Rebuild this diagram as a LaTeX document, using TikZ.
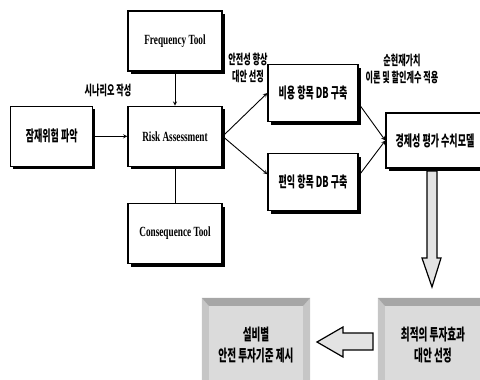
\documentclass[tikz,border=0pt]{standalone}
\usepackage{fontspec}
\setmainfont{Noto Sans CJK KR}[FakeStretch=0.6]
\newfontfamily\enfont{Liberation Serif}[FakeStretch=0.66]
\usetikzlibrary{shapes.geometric, arrows, positioning, shadows}
\tikzstyle{process} = [
    rectangle,
    minimum width=94pt,
    minimum height=60pt,
    draw=black,
    line width=1.3pt,
    fill=white,
    font=\enfont\bfseries\fontsize{14}{16}\selectfont,
    drop shadow={shadow xshift=2.5pt, shadow yshift=-3pt, opacity=1, fill=black}
]
\tikzstyle{dbbox} = [
    process,
    minimum width=90pt,
    minimum height=57pt,
    font=\bfseries\fontsize{15}{17}\selectfont
]
\tikzstyle{result} = [
    rectangle,
    minimum height=94pt,
    fill=gray!28,
    align=center,
    font=\bfseries\fontsize{16}{21}\selectfont
]
\tikzstyle{note} = [
    align=center,
    inner sep=0pt,
    font=\bfseries\fontsize{13.5}{17}\selectfont
]
\tikzstyle{arrow} = [line width=0.9pt,->,>=stealth]
\tikzstyle{line} = [line width=0.9pt]
\tikzstyle{bigarrow} = [draw=black, line width=1.2pt, fill=gray!22]

\begin{document}
\begin{tikzpicture}[x=1pt, y=1pt]
\useasboundingbox (0,0) rectangle (480,-380);

\node (freq) [process] at (175,-41) {Frequency Tool};

\node (risk) [process, below=34pt of freq] {Risk Assessment};

\node (cons) [process, below=36pt of risk] {Consequence Tool};

\node (hazard) [process, left=34pt of risk, minimum width=82pt,
    font=\bfseries\fontsize{15}{17}\selectfont] {잠재위험 파악};

\node (cost) [dbbox] at (313,-93) {비용 항목 DB 구축};

\node (benefit) [dbbox, below=31pt of cost] {편익 항목 DB 구축};

\node (econ) [dbbox, minimum width=98pt, minimum height=55pt] at (435,-140.5)
{경제성 평가 수치모델};

\node (best) [result, minimum width=110pt] at (433,-345)
{최적의 투자효과\\대안 선정};

\node (guide) [result, minimum width=108pt] at (256,-345)
{설비별\\안전 투자기준 제시};

\foreach \b in {best, guide} {
    \fill [gray!45] (\b.north west) -- ([shift={(7,-8)}]\b.north west)
        -- ([xshift=7]\b.south west) -- (\b.south west) -- cycle;
    \fill [gray!45] (\b.north east) -- ([shift={(-7,-8)}]\b.north east)
        -- ([xshift=-7]\b.south east) -- (\b.south east) -- cycle;
    \fill [gray!70] (\b.north west) -- (\b.north east)
        -- ([shift={(-7,-8)}]\b.north east) -- ([shift={(7,-8)}]\b.north west) -- cycle;
}

\node (scen) [note] at (108,-90) {시나리오 작성};

\node (alt) [note] at (248,-68) {안전성 향상\\대안 선정};

\node (npv) [note] at (402,-69) {순현재가치\\이론 및 할인계수 적용};

\draw [arrow] (hazard) -- (risk);
\draw [arrow] (freq) -- (risk);
\draw [line] (risk) -- (cons);
\draw [arrow] (risk.east) -- (cost.west);
\draw [arrow] (risk.east) -- (benefit.170);
\draw [arrow] (cost.-13) -- (econ.west);
\draw [arrow] (benefit.8) -- (econ.west);

\draw [bigarrow] (427,-171) -- (427,-258) -- (422,-258) -- (432,-287)
    -- (441,-258) -- (437,-258) -- (437,-171) -- cycle;
\draw [bigarrow] (373,-333) -- (343,-333) -- (343,-327) -- (317,-342)
    -- (343,-357) -- (343,-350) -- (373,-350) -- cycle;

\end{tikzpicture}
\end{document}
